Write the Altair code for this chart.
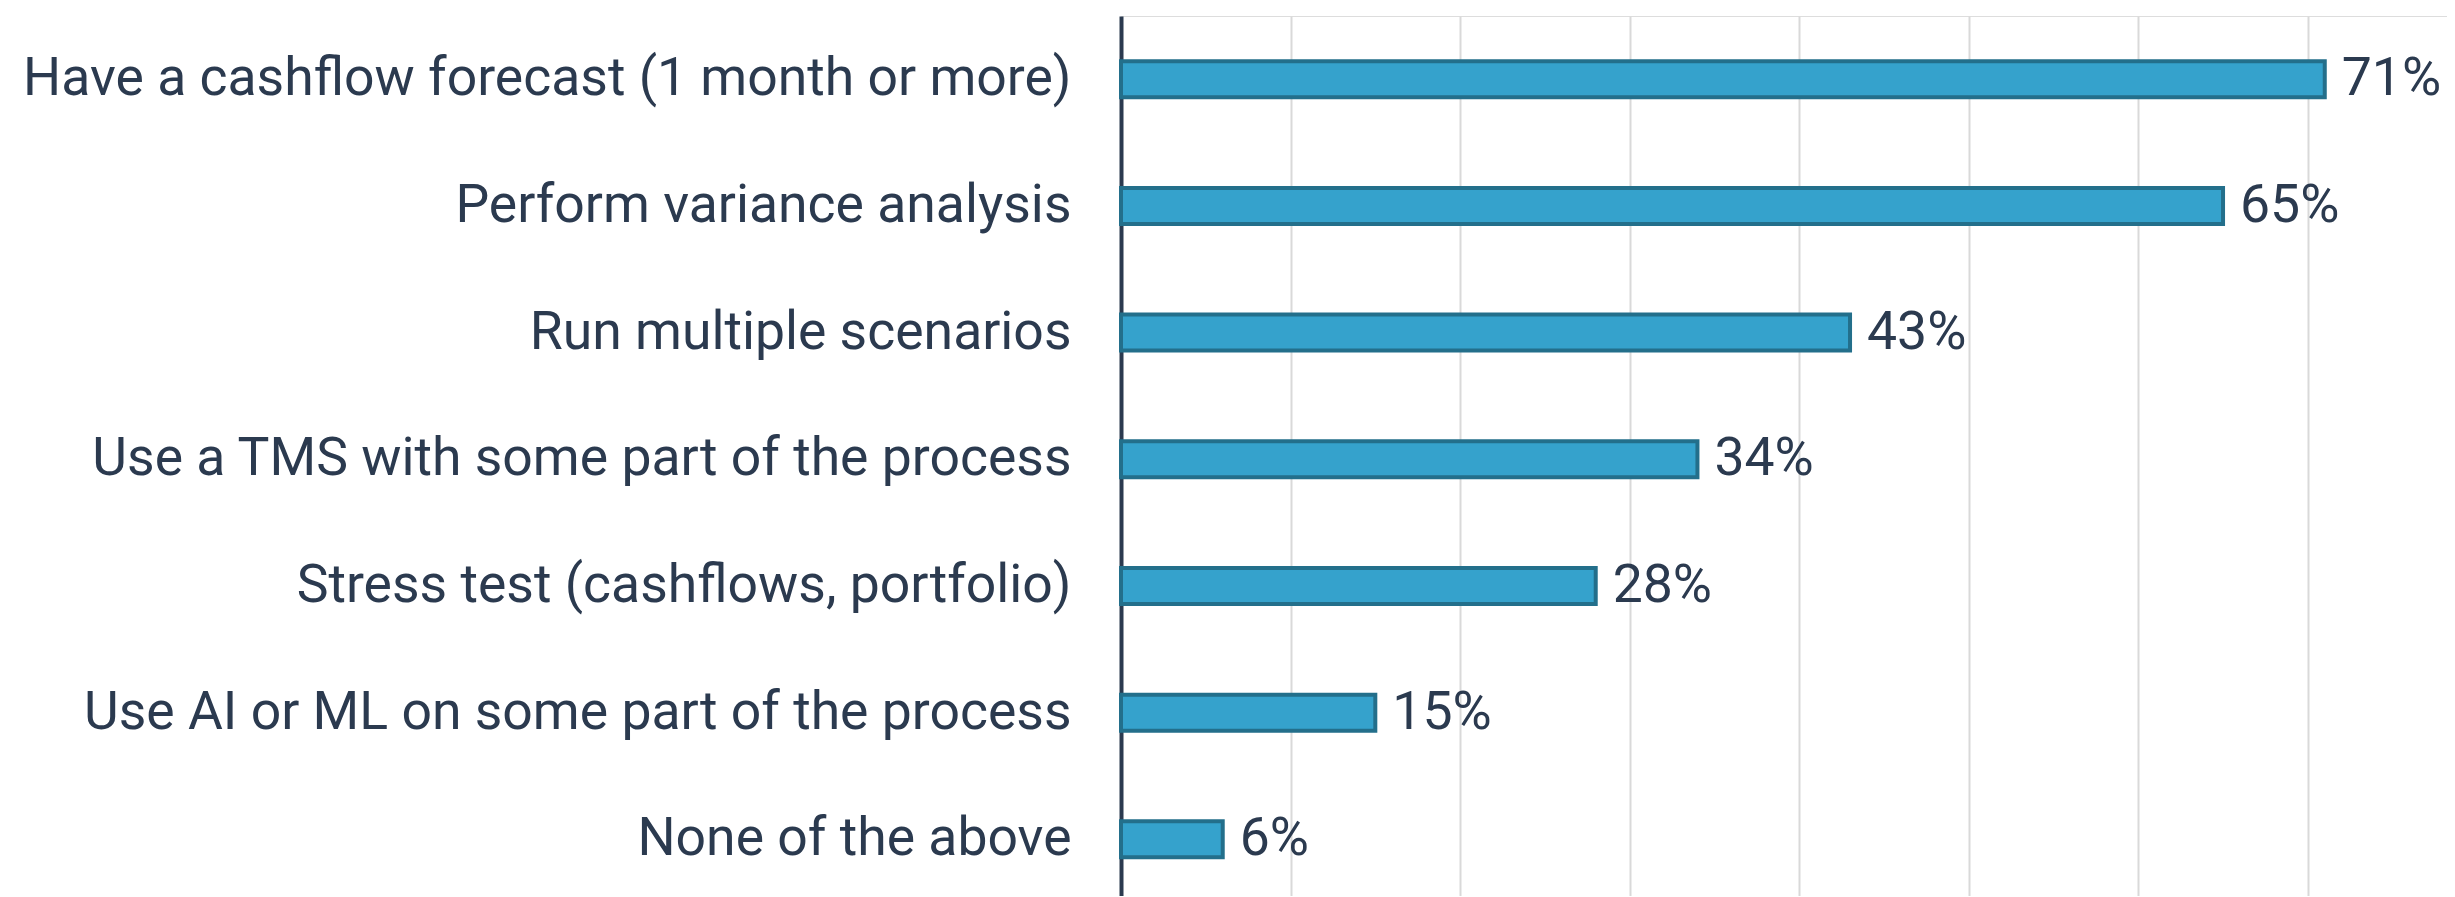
import altair as alt
import pandas as pd

categories = [
    "Have a cashflow forecast (1 month or more)",
    "Perform variance analysis",
    "Run multiple scenarios",
    "Use a TMS with some part of the process",
    "Stress test (cashflows, portfolio)",
    "Use AI or ML on some part of the process",
    "None of the above",
]
values = [71, 65, 43, 34, 28, 15, 6]
value_labels = ["71%", "65%", "43%", "34%", "28%", "15%", "6%"]
grid_ticks = [10, 20, 30, 40, 50, 60, 70]

df = pd.DataFrame({"category": categories, "value": values, "label": value_labels})

TEXT = "#2b3a4f"
FONT = "Roboto"

x_scale = alt.Scale(domain=[0, 78.21], nice=False, zero=True)
y_scale = alt.Scale(domain=categories, paddingInner=0.716, paddingOuter=0.331, align=0.539)

base = alt.Chart(df).encode(
    y=alt.Y(
        "category:N",
        sort=categories,
        scale=y_scale,
        axis=alt.Axis(
            title=None,
            ticks=False,
            labelPadding=50,
            labelFont=FONT,
            labelFontSize=53.5,
            labelColor=TEXT,
            labelLimit=2000,
            domainColor=TEXT,
            domainWidth=4,
            grid=False,
        ),
    ),
)

bars = base.mark_bar(height=36, fill="#35a2cc", stroke="#236f8b", strokeWidth=4).encode(
    x=alt.X(
        "value:Q",
        scale=x_scale,
        axis=alt.Axis(
            title=None,
            labels=False,
            ticks=False,
            domain=False,
            grid=True,
            gridColor="#d9d9d9",
            gridWidth=2,
            values=grid_ticks,
        ),
    ),
)

text = base.mark_text(
    align="left", baseline="middle", dx=17, font=FONT, fontSize=53.5, color=TEXT
).encode(
    x=alt.X("value:Q", scale=x_scale),
    text="label:N",
)

chart = (
    alt.layer(bars, text)
    .properties(
        width=1326,
        height=880,
        autosize=alt.AutoSizeParams(type="none"),
        padding={"left": 1113, "top": 8, "right": 0, "bottom": 0},
    )
    .configure_view(stroke=None)
    .configure(background="white")
)

chart.save("out.html", embed_options={"renderer": "svg", "actions": False})
